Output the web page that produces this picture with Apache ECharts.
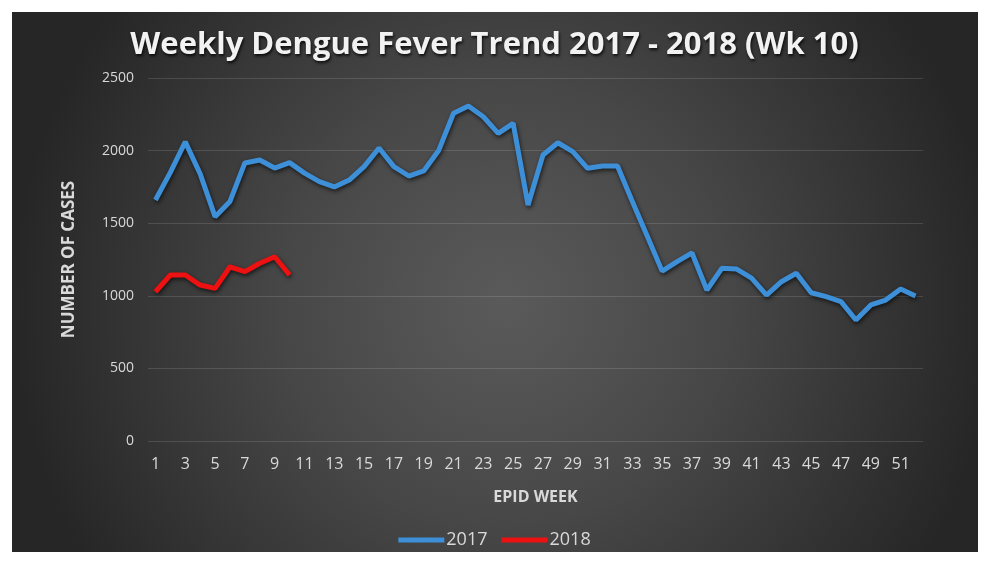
<!DOCTYPE html>
<html>
<head>
<meta charset="utf-8">
<script src="https://cdn.jsdelivr.net/npm/echarts@6/dist/echarts.min.js"></script>
<style>
  html, body { margin: 0; padding: 0; background: #fff; }
  #wrap { position: relative; width: 989px; height: 562px; }
  #bg {
    position: absolute; left: 12px; top: 12px; width: 966px; height: 540px;
    background: radial-gradient(circle farthest-side at 51% 54%, #5a5a5a 0%, #525252 20%, #474747 45%, #383838 70%, #262626 100%);
  }
  #chart { position: absolute; left: 0; top: 0; width: 989px; height: 562px; }
</style>
</head>
<body>
<div id="wrap">
  <div id="bg"></div>
  <div id="chart"></div>
</div>
<script>
// epid weeks 1..52
const weeks = []
for (let w = 1; w <= 52; w++) weeks.push(String(w))

// values
const cases2017 = [1660, 1850, 2060, 1840, 1545, 1650, 1915, 1935, 1880, 1917,
  1845, 1786, 1750, 1797, 1890, 2018, 1890, 1825, 1860, 2000,
  2257, 2307, 2233, 2119, 2188, 1625, 1970, 2054, 1993, 1878,
  1894, 1894, 1650, 1410, 1170, 1235, 1295, 1040, 1189, 1184,
  1122, 1005, 1097, 1155, 1021, 994, 960, 833, 937, 971,
  1047, 999]
const cases2018 = [1028, 1143, 1143, 1074, 1051, 1200, 1166, 1224, 1269, 1143]

const chart = echarts.init(document.getElementById('chart'))
const txt = '#d9d9d9'
const font = 'Open Sans'

const lineShadow = {
  shadowColor: 'rgba(0,0,0,0.65)',
  shadowBlur: 4,
  shadowOffsetX: 1,
  shadowOffsetY: 2
}

chart.setOption({
  backgroundColor: 'transparent',
  animation: false,
  title: {
    text: 'Weekly Dengue Fever Trend 2017 - 2018 (Wk 10)',
    left: 'center',
    top: 25,
    textStyle: {
      color: '#f2f2f2',
      fontFamily: font,
      fontWeight: 'bold',
      fontSize: 31,
      textShadowColor: 'rgba(0,0,0,0.8)',
      textShadowBlur: 3,
      textShadowOffsetX: 1,
      textShadowOffsetY: 2
    }
  },
  legend: {
    bottom: 8,
    left: 'center',
    itemWidth: 46,
    itemHeight: 5,
    itemGap: 14,
    icon: 'rect',
    textStyle: { color: txt, fontFamily: font, fontSize: 18, padding: [0, 0, 0, -3] },
    data: ['2017', '2018']
  },
  grid: { left: 148, right: 66, top: 78, bottom: 121 },
  xAxis: {
    type: 'category',
    data: weeks,
    boundaryGap: true,
    name: 'EPID WEEK',
    nameLocation: 'middle',
    nameGap: 48,
    nameTextStyle: { color: txt, fontFamily: font, fontWeight: 'bold', fontSize: 16 },
    axisLine: { show: false },
    axisTick: { show: false },
    axisLabel: { color: txt, fontFamily: font, fontSize: 16, interval: 1, margin: 15 }
  },
  yAxis: {
    type: 'value',
    min: 0,
    max: 2500,
    interval: 500,
    name: 'NUMBER OF CASES',
    nameLocation: 'middle',
    nameGap: 70,
    nameTextStyle: { color: txt, fontFamily: font, fontWeight: 'bold', fontSize: 17 },
    axisLine: { show: false },
    axisTick: { show: false },
    axisLabel: { color: txt, fontFamily: font, fontSize: 14, margin: 14, formatter: v => String(v) },
    splitLine: { lineStyle: { color: 'rgba(255,255,255,0.13)', width: 1 } }
  },
  series: [
    {
      name: '2017',
      type: 'line',
      data: cases2017,
      symbol: 'none',
      color: '#3d8fd8',
      lineStyle: Object.assign({ width: 5, color: '#3d8fd8' }, lineShadow)
    },
    {
      name: '2018',
      type: 'line',
      data: cases2018,
      symbol: 'none',
      color: '#ee1111',
      lineStyle: Object.assign({ width: 5, color: '#ee1111' }, lineShadow)
    }
  ]
})
</script>
</body>
</html>
